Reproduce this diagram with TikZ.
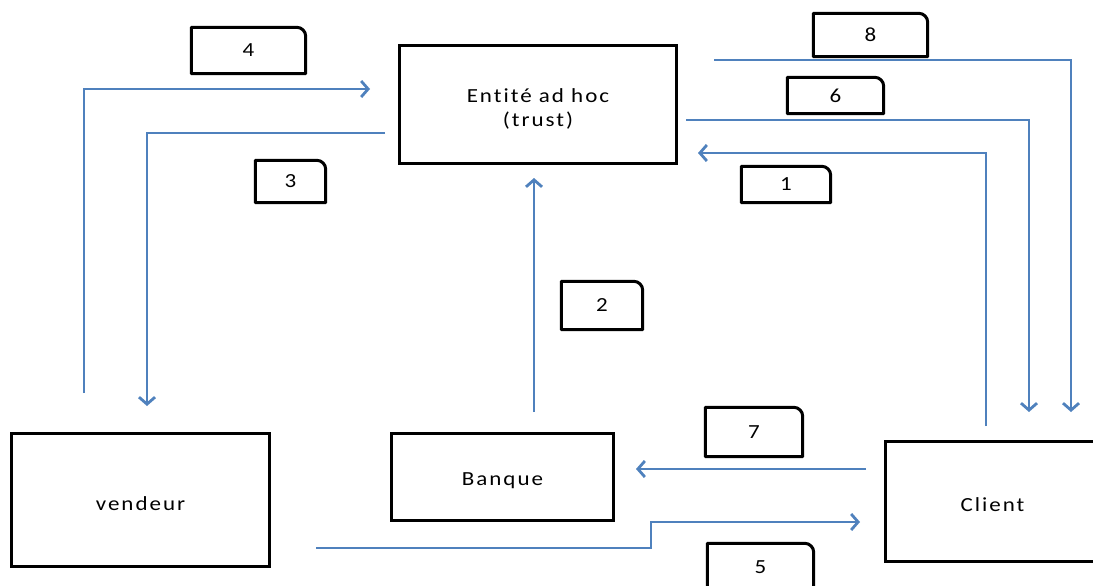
\documentclass[tikz,border=0pt]{standalone}
\usepackage{fontspec}
\usepackage{tikz}
\usetikzlibrary{arrows.meta}
\newfontfamily\lblfont{Carlito}[LetterSpace=10, FakeStretch=1.15, Ligatures=NoCommon]
\definecolor{flowblue}{RGB}{79,129,189}

\begin{document}
\begin{tikzpicture}[x=1pt, y=-1pt,
    actor/.style = {draw, line width=3pt, inner sep=0pt},
    actortext/.style = {inner sep=0pt, align=center, yshift=-4pt,
                        font=\lblfont\fontsize{20}{24}\selectfont},
    numbox/.style = {inner sep=0pt, font=\lblfont\fontsize{20}{24}\selectfont},
    flow/.style = {draw=flowblue, line width=2.8pt,
                   -{Straight Barb[length=7pt, width=16pt]}}]
    \useasboundingbox (0,0) rectangle (1093,586);

    % les acteurs
    \node[actor, minimum width=277pt, minimum height=118pt,
          label={[actortext]center:Entité ad hoc\\(trust)}] (entite) at (538,104.5) {};
    \node[actor, minimum width=258pt, minimum height=133pt,
          label={[actortext]center:vendeur}] (vendeur) at (140.5,500) {};
    \node[actor, minimum width=222pt, minimum height=87pt,
          label={[actortext]center:Banque}] (banque) at (502.5,477) {};
    \node[actor, minimum width=214pt, minimum height=120pt,
          label={[actortext, yshift=1pt]center:Client}] (client) at (992.5,501.5) {};

    % les étapes numérotées
    \node[numbox, minimum width=114pt, minimum height=46pt] (n4) at (248.5,50.5) {4};
    \node[numbox, minimum width=114pt, minimum height=43pt] (n8) at (870.5,35) {8};
    \node[numbox, minimum width=96pt, minimum height=36pt] (n6) at (835.5,95.5) {6};
    \node[numbox, minimum width=70pt, minimum height=42pt] (n3) at (290.5,181.5) {3};
    \node[numbox, minimum width=89pt, minimum height=36pt] (n1) at (786,184.5) {1};
    \node[numbox, minimum width=81pt, minimum height=48pt] (n2) at (602,305.5) {2};
    \node[numbox, minimum width=97pt, minimum height=49pt] (n7) at (754,432) {7};
    \node[numbox, minimum width=106pt, minimum height=47pt] (n5) at (760.5,567) {5};
    \foreach \n in {n1,n2,n3,n4,n5,n6,n7,n8}
        \draw[line width=3pt, line join=round] (\n.south west) -- (\n.north west)
            -- ([xshift=-9pt]\n.north east) arc[start angle=90, end angle=0, radius=9pt]
            -- (\n.south east) -- cycle;

    % extrémités des flux
    \coordinate (d4) at (84,393);    \coordinate (f4) at (370,89);
    \coordinate (d3) at (385,133);   \coordinate (f3) at (147,406);
    \coordinate (d8) at (714,60);    \coordinate (f8) at (1071,412);
    \coordinate (d6) at (686,120);   \coordinate (f6) at (1029,412);
    \coordinate (d1) at (986,426);   \coordinate (f1) at (698,153);
    \coordinate (d2) at (534,412);   \coordinate (f2) at (534,178);
    \coordinate (d7) at (866,469);   \coordinate (f7) at (636,469);
    \coordinate (d5) at (316,548);   \coordinate (f5) at (860,522);
    \coordinate (m5) at (651,548);

    % les flux
    \draw[flow] (d4) |- (f4);
    \draw[flow] (d3) -| (f3);
    \draw[flow] (d8) -| (f8);
    \draw[flow] (d6) -| (f6);
    \draw[flow] (d1) |- (f1);
    \draw[flow] (d2) -- (f2);
    \draw[flow] (d7) -- (f7);
    \draw[flow] (d5) -- (m5) |- (f5);
\end{tikzpicture}
\end{document}
